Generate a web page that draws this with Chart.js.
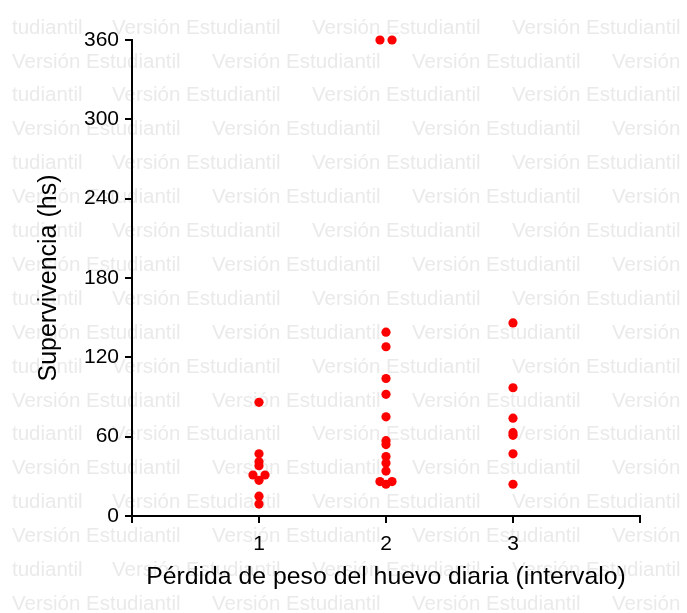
<!DOCTYPE html>
<html>
<head>
<meta charset="utf-8">
<script src="https://cdn.jsdelivr.net/npm/chart.js@4"></script>
<style>
  html, body { margin: 0; padding: 0; background: #fff; }
  #wrap { width: 687px; height: 613px; }
</style>
</head>
<body>
<div id="wrap"><canvas id="myChart" width="687" height="613"></canvas></div>
<script>
// data
const categories = [1, 2, 3];
const group1 = [86, 47, 41, 38, 31, 31, 27, 15, 9];
const group2 = [360, 360, 139, 128, 104, 92, 75, 57, 54, 45, 40, 34, 26, 26, 24];
const group3 = [146, 97, 74, 63, 61, 47, 24];
const xTickLabels = ["", "1", "2", "3", ""];
const yTicks = [0, 60, 120, 180, 240, 300, 360];

// equal values sit side by side instead of on top of each other
function dodge(cat, values) {
  const pts = [];
  const counts = {};
  values.forEach(v => counts[v] = (counts[v] || 0) + 1);
  const seen = {};
  values.forEach(v => {
    const n = counts[v];
    const i = seen[v] || 0;
    seen[v] = i + 1;
    pts.push({ x: cat + (i - (n - 1) / 2) * 0.095, y: v });
  });
  return pts;
}

const points = [].concat(
  dodge(categories[0], group1),
  dodge(categories[1], group2),
  dodge(categories[2], group3)
);

// "Versión Estudiantil" watermark behind everything
const watermark = {
  id: "watermark",
  beforeDraw(chart) {
    const ctx = chart.ctx;
    ctx.save();
    ctx.fillStyle = "#eaeaea";
    ctx.font = "20.5px 'Liberation Sans', Arial, sans-serif";
    ctx.textBaseline = "middle";
    for (let r = 0; r < 18; r++) {
      const y = 28 + r * 33.9;
      let start = 12;
      if (r % 2 === 0) {
        // row starts with the tail of a cut-off repeat
        ctx.fillText("tudiantil", 12, y);
        start = 112;
      }
      for (let x = start; x < 700; x += 200) {
        ctx.fillText("Versión Estudiantil", x, y);
      }
    }
    ctx.restore();
  }
};

const font = "'Liberation Sans', Arial, sans-serif";

const config = {
  type: "scatter",
  data: {
    datasets: [{
      data: points,
      backgroundColor: "#ff0000",
      borderWidth: 0,
      pointRadius: 4.6,
      clip: false,
    }],
  },
  options: {
    responsive: false,
    animation: false,
    layout: { padding: { top: 40, right: 47, left: 0, bottom: 0 } },
    plugins: { legend: { display: false }, tooltip: { enabled: false } },
    scales: {
      x: {
        type: "linear",
        min: 0,
        max: 4,
        afterFit(scale) { scale.height = 97; },
        afterBuildTicks(scale) { scale.ticks = [0, 1, 2, 3, 4].map(v => ({ value: v })); },
        ticks: {
          callback: (v) => xTickLabels[v],
          color: "#000",
          font: { family: font, size: 21 },
          padding: 9,
          maxRotation: 0,
        },
        grid: { drawOnChartArea: false, tickLength: 7, color: "#000", lineWidth: 2 },
        border: { color: "#000", width: 2 },
        title: {
          display: true,
          text: "Pérdida de peso del huevo diaria (intervalo)",
          color: "#000",
          font: { family: font, size: 24.8 },
          padding: { top: 0, bottom: 21 },
        },
      },
      y: {
        min: 0,
        max: 360,
        afterFit(scale) { scale.width = 132; },
        afterBuildTicks(scale) { scale.ticks = yTicks.map(v => ({ value: v })); },
        ticks: {
          color: "#000",
          font: { family: font, size: 21 },
          padding: 6,
        },
        grid: { drawOnChartArea: false, tickLength: 7, color: "#000", lineWidth: 2 },
        border: { color: "#000", width: 2 },
        title: {
          display: true,
          text: "Supervivencia (hs)",
          color: "#000",
          font: { family: font, size: 25 },
          padding: { top: 34, bottom: 0 },
        },
      },
    },
  },
  plugins: [watermark],
};

const myChart = new Chart(document.getElementById("myChart"), config);
</script>
</body>
</html>
